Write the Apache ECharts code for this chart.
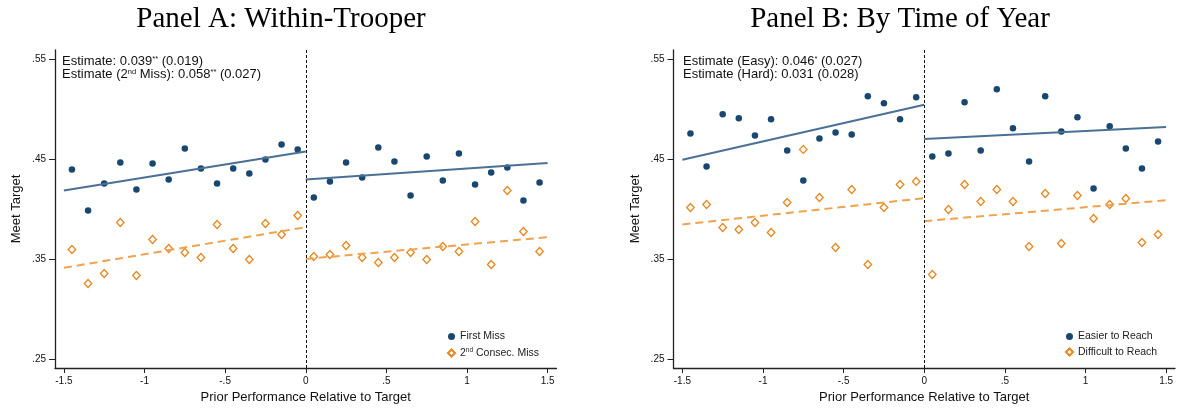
<!DOCTYPE html>
<html>
<head>
<meta charset="utf-8">
<script src="https://cdn.jsdelivr.net/npm/echarts@6/dist/echarts.min.js"></script>
<style>
html,body{margin:0;padding:0;background:#fff;}
#chart{width:1178px;height:410px;}
</style>
</head>
<body>
<div id="chart"></div>
<script>
// ---- Data ----
var binX = [-1.45,-1.35,-1.25,-1.15,-1.05,-0.95,-0.85,-0.75,-0.65,-0.55,-0.45,-0.35,-0.25,-0.15,-0.05,
            0.05,0.15,0.25,0.35,0.45,0.55,0.65,0.75,0.85,0.95,1.05,1.15,1.25,1.35,1.45];

// Panel A
var aFirstMiss = [0.440,0.399,0.426,0.447,0.420,0.446,0.430,0.461,0.441,0.426,0.441,0.436,0.450,0.465,0.460,
                  0.412,0.428,0.447,0.432,0.462,0.448,0.414,0.453,0.429,0.456,0.425,0.437,0.442,0.409,0.427];
var aSecondMiss = [0.360,0.326,0.336,0.387,0.334,0.370,0.361,0.357,0.352,0.385,0.361,0.350,0.386,0.375,0.394,
                   0.353,0.355,0.364,0.352,0.347,0.352,0.357,0.350,0.363,0.358,0.388,0.345,0.419,0.378,0.358];
// Panel B
var bEasy = [0.476,0.443,0.495,0.491,0.474,0.490,0.459,0.429,0.471,0.477,0.475,0.513,0.506,0.490,0.512,
             0.453,0.456,0.507,0.459,0.520,0.481,0.448,0.513,0.478,0.492,0.421,0.483,0.461,0.441,0.468];
var bHard = [0.402,0.405,0.382,0.380,0.387,0.377,0.407,0.460,0.412,0.362,0.420,0.345,0.402,0.425,0.428,
             0.335,0.400,0.425,0.408,0.420,0.408,0.363,0.416,0.366,0.414,0.391,0.405,0.411,0.367,0.375];

// Linear fits (endpoints at x = -1.5, 0 and 0, 1.5)
var fitXLeft = [-1.5, 0];
var fitXRight = [0, 1.5];
var aFitFirstLeft = [0.419, 0.458];
var aFitFirstRight = [0.430, 0.4465];
var aFitSecondLeft = [0.3417, 0.3823];
var aFitSecondRight = [0.3505, 0.3723];
var bFitEasyLeft = [0.4497, 0.5047];
var bFitEasyRight = [0.4703, 0.4823];
var bFitHardLeft = [0.385, 0.4113];
var bFitHardRight = [0.3883, 0.4092];

var xTicks = [-1.5,-1,-0.5,0,0.5,1,1.5];
var yTicks = [0.25,0.35,0.45,0.55];

var panelTitles = ['Panel A: Within-Trooper', 'Panel B: By Time of Year'];
var seriesNames = [['First Miss','2nd Consec. Miss'],['Easier to Reach','Difficult to Reach']];

// ---- Styling ----
var NAVY = '#1a476f', NAVY_LINE = '#4b7095', ORANGE = '#e8861a', ORANGE_LINE = '#f0a24e';
var SANS = 'Liberation Sans, Arial, Helvetica, sans-serif';
var SERIF = 'Liberation Serif, Times New Roman, serif';

function pairs(xs, ys){ return xs.map(function(x,i){ return [x, ys[i]]; }); }
function fmtX(v){
  if (Math.abs(v) < 1e-9) return '0';
  var s = String(Math.round(v*10)/10);
  return s.replace(/^(-?)0\./, '$1.');
}
function fmtY(v){ return v.toFixed(2).replace(/^0/, ''); }

var grids = [
  {left: 55, top: 50, width: 501.5, height: 318},
  {left: 673.5, top: 50, width: 501.5, height: 318}
];

function xAxisFor(i){
  return {
    type:'value', gridIndex:i, min:-1.555, max:1.555,
    name:'Prior Performance Relative to Target', nameLocation:'middle', nameGap:23,
    nameTextStyle:{fontFamily:SANS, fontSize:13, color:'#111'},
    axisLine:{show:true, onZero:false, lineStyle:{color:'#222', width:1.3}},
    axisTick:{show:true, length:5, customValues:xTicks, lineStyle:{color:'#222', width:1}},
    axisLabel:{show:true, customValues:xTicks, formatter:fmtX, margin:8, fontFamily:SANS, fontSize:10, color:'#111'},
    splitLine:{show:false}
  };
}
function yAxisFor(i){
  return {
    type:'value', gridIndex:i, min:0.2416, max:0.5593,
    name:'Meet Target', nameLocation:'middle', nameGap:32,
    nameTextStyle:{fontFamily:SANS, fontSize:13, color:'#111'},
    axisLine:{show:true, onZero:false, lineStyle:{color:'#222', width:1.3}},
    axisTick:{show:true, length:6, customValues:yTicks, lineStyle:{color:'#222', width:1}},
    axisLabel:{show:true, customValues:yTicks, formatter:fmtY, margin:9, fontFamily:SANS, fontSize:10, color:'#111'},
    splitLine:{show:false}
  };
}

function dotSeries(i, name, ys){
  return {name:name, type:'scatter', xAxisIndex:i, yAxisIndex:i, data:pairs(binX, ys),
    symbol:'circle', symbolSize:6.5, itemStyle:{color:NAVY, opacity:1}, z:3};
}
function diamondSeries(i, name, ys){
  return {name:name, type:'scatter', xAxisIndex:i, yAxisIndex:i, data:pairs(binX, ys),
    symbol:'diamond', symbolSize:[7.5,8], itemStyle:{color:'#fff', borderColor:ORANGE, borderWidth:1.3, opacity:1}, z:3};
}
function fitSeries(i, xs, ys, color, dashed){
  return {type:'line', xAxisIndex:i, yAxisIndex:i, data:pairs(xs, ys), symbol:'none', showSymbol:false,
    lineStyle:{color:color, width:2, type: dashed ? [8,5] : 'solid'}, silent:true, z:4};
}
function dividerSeries(i){
  return {type:'line', xAxisIndex:i, yAxisIndex:i, data:[], silent:true,
    markLine:{silent:true, symbol:['none','none'], label:{show:false},
      lineStyle:{color:'#111', width:1, type:[3,2]}, data:[{xAxis:0}]}, z:2};
}

var richBase = {
  n:{fontFamily:SANS, fontSize:13, fontWeight:'normal', lineHeight:12.8, color:'#111'},
  s:{fontFamily:SANS, fontSize:7.5, fontWeight:'normal', lineHeight:7, verticalAlign:'top', color:'#111'}
};
var legendRich = {
  n:{fontFamily:SANS, fontSize:10.5, lineHeight:13, color:'#222'},
  s:{fontFamily:SANS, fontSize:6.5, lineHeight:7, verticalAlign:'top', color:'#222'}
};
function legendFmt(name){
  if (name.indexOf('2nd') === 0) return '{n|2}{s|nd}{n|' + name.slice(3) + '}';
  return '{n|' + name + '}';
}

var option = {
  animation:false,
  backgroundColor:'#fff',
  title:[
    {text:panelTitles[0], left:281, top:5, textAlign:'center', padding:0,
     textStyle:{fontFamily:SERIF, fontSize:29, fontWeight:'normal', color:'#000'}},
    {text:panelTitles[1], left:900, top:5, textAlign:'center', padding:0,
     textStyle:{fontFamily:SERIF, fontSize:29, fontWeight:'normal', color:'#000'}},
    {text:'{n|Estimate: 0.039}{s|**}{n| (0.019)}\n{n|Estimate (2}{s|nd}{n| Miss): 0.058}{s|**}{n| (0.027)}',
     left:62, top:55, padding:0, textStyle:{fontWeight:'normal', rich:richBase}},
    {text:'{n|Estimate (Easy): 0.046}{s|*}{n| (0.027)}\n{n|Estimate (Hard): 0.031 (0.028)}',
     left:683, top:55, padding:0, textStyle:{fontWeight:'normal', rich:richBase}}
  ],
  grid:grids,
  xAxis:[xAxisFor(0), xAxisFor(1)],
  yAxis:[yAxisFor(0), yAxisFor(1)],
  legend:[
    {orient:'vertical', left:447, top:331, padding:0, itemGap:4.5,
     itemWidth:7, itemHeight:7, formatter:legendFmt, textStyle:{rich:legendRich},
     selectedMode:false,
     data:[{name:seriesNames[0][0], icon:'circle', itemStyle:{color:NAVY}}, {name:seriesNames[0][1], icon:'diamond'}]},
    {orient:'vertical', left:1065, top:331, padding:0, itemGap:4.5,
     itemWidth:7, itemHeight:7, formatter:legendFmt, textStyle:{rich:legendRich},
     selectedMode:false,
     data:[{name:seriesNames[1][0], icon:'circle', itemStyle:{color:NAVY}}, {name:seriesNames[1][1], icon:'diamond'}]}
  ],
  series:[
    dividerSeries(0),
    dotSeries(0, seriesNames[0][0], aFirstMiss),
    diamondSeries(0, seriesNames[0][1], aSecondMiss),
    fitSeries(0, fitXLeft, aFitFirstLeft, NAVY_LINE, false),
    fitSeries(0, fitXRight, aFitFirstRight, NAVY_LINE, false),
    fitSeries(0, fitXLeft, aFitSecondLeft, ORANGE_LINE, true),
    fitSeries(0, fitXRight, aFitSecondRight, ORANGE_LINE, true),
    dividerSeries(1),
    dotSeries(1, seriesNames[1][0], bEasy),
    diamondSeries(1, seriesNames[1][1], bHard),
    fitSeries(1, fitXLeft, bFitEasyLeft, NAVY_LINE, false),
    fitSeries(1, fitXRight, bFitEasyRight, NAVY_LINE, false),
    fitSeries(1, fitXLeft, bFitHardLeft, ORANGE_LINE, true),
    fitSeries(1, fitXRight, bFitHardRight, ORANGE_LINE, true)
  ]
};

var chart = echarts.init(document.getElementById('chart'), null, {renderer:'canvas'});
chart.setOption(option);
</script>
</body>
</html>
